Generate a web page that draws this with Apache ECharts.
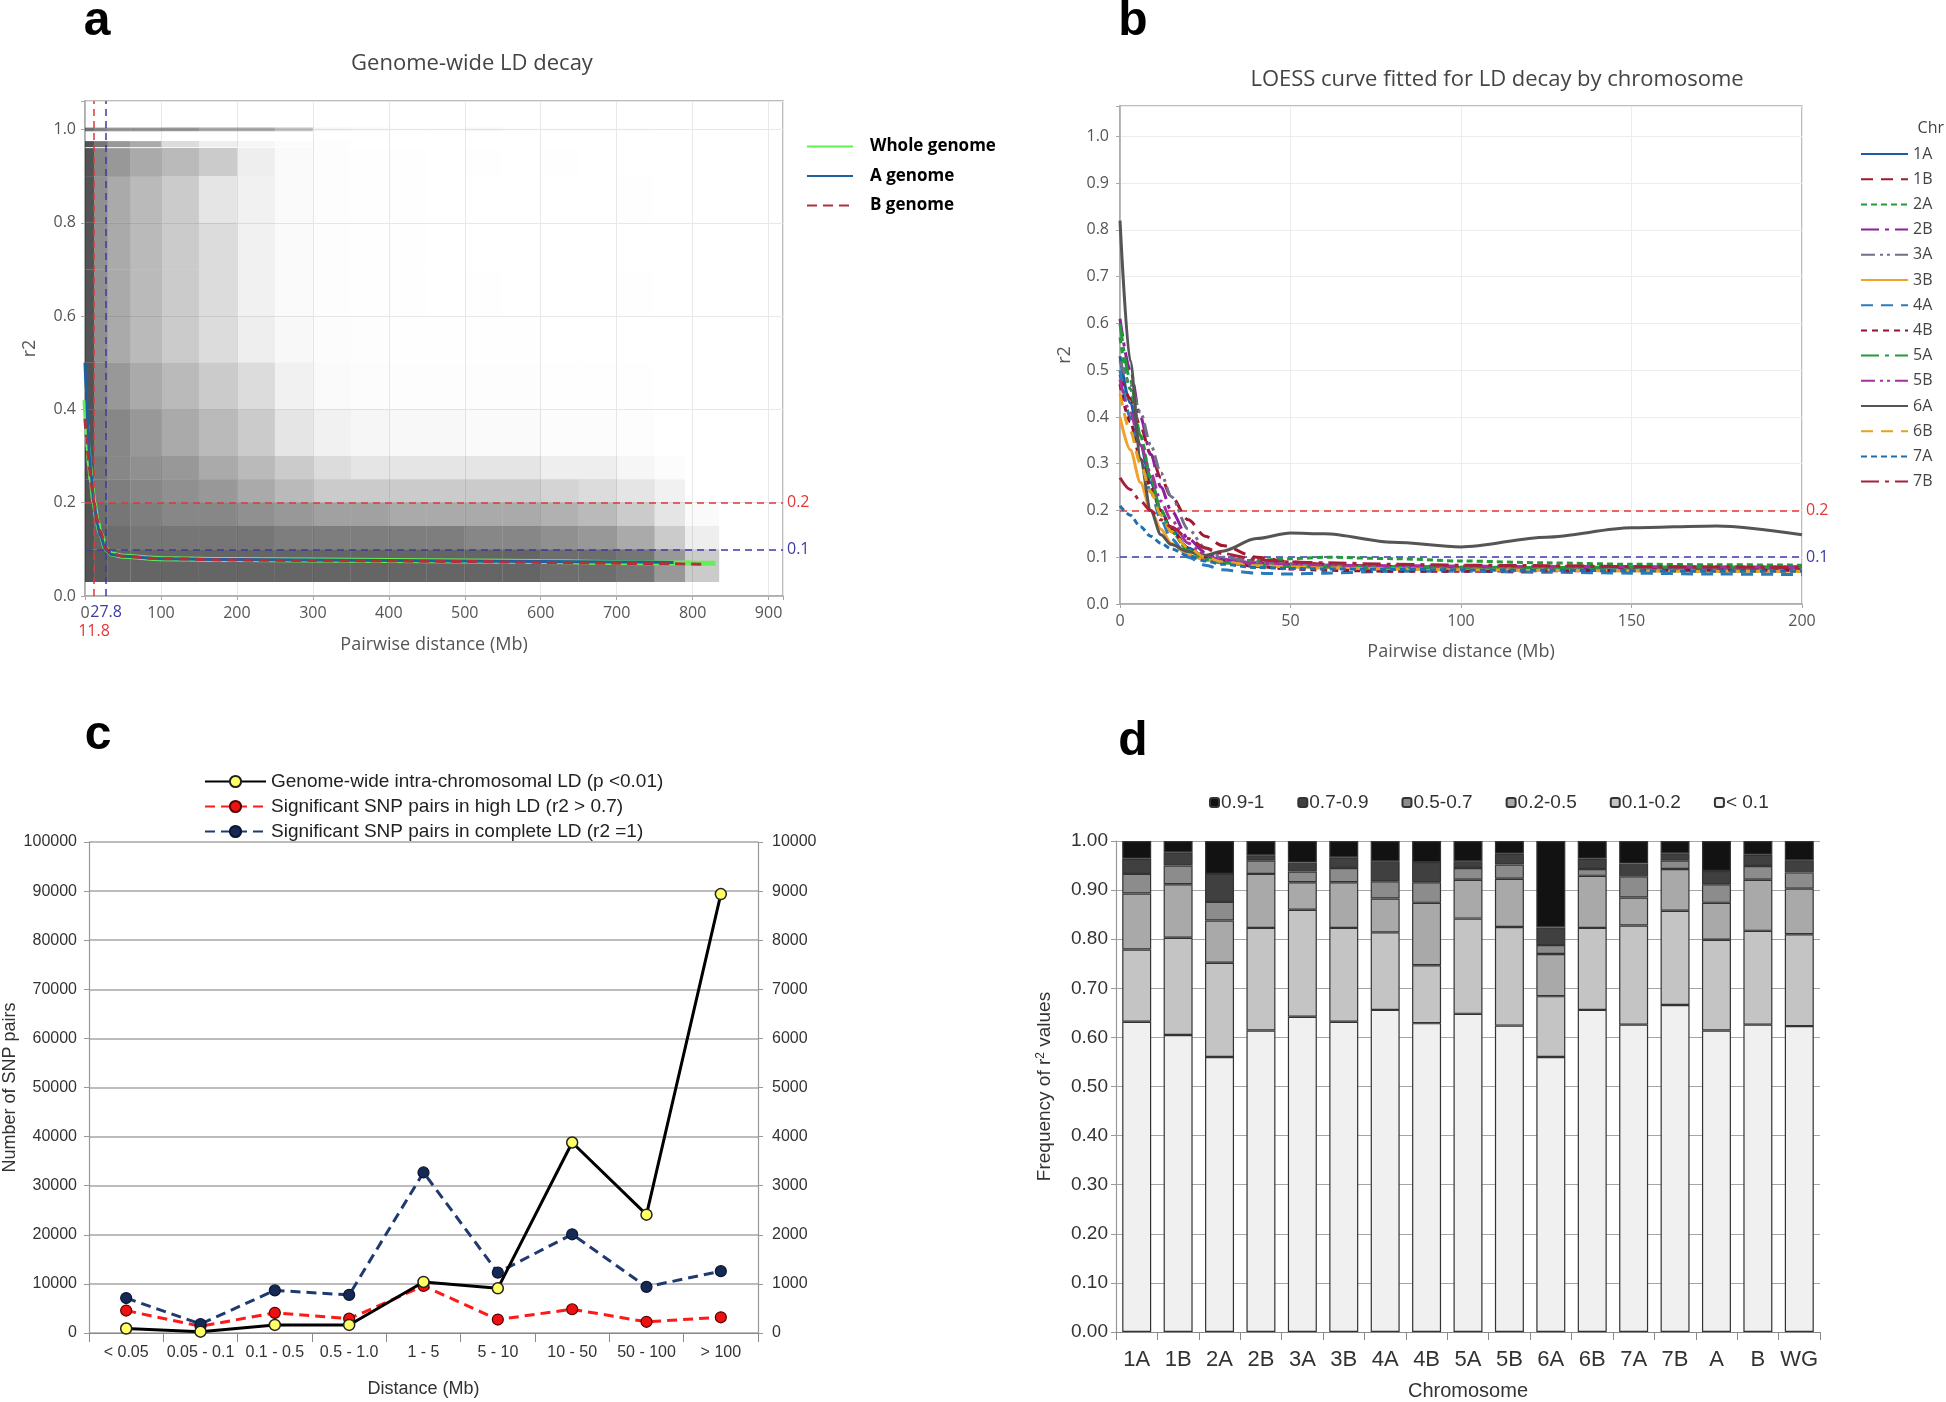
<!DOCTYPE html>
<html><head><meta charset="utf-8">
<script src="https://cdn.jsdelivr.net/npm/echarts@6/dist/echarts.min.js"></script>
<style>html,body{margin:0;padding:0;background:#fff;} #c{width:1946px;height:1402px;}</style>
</head><body><div id="c"></div>
<script>
// ---------------- Panel a: genome-wide LD decay ----------------
// density of SNP-pair points, read off the scatter cloud (0 = empty, 10 = saturated)
const aXEdges = [0, 12, 30, 60, 100, 150, 200, 250, 300, 350, 400, 450, 500, 550, 600, 650, 700, 750, 790, 835];
const aRowBands = [[0.03,0.1],[0.1,0.15],[0.15,0.2],[0.2,0.25],[0.25,0.3],[0.3,0.4],[0.4,0.5],[0.5,0.6],[0.6,0.7],[0.7,0.8],[0.8,0.9],[0.9,0.96],[0.962,0.975],[0.996,1.004]];
const aDensity = [
  [10, 9.5, 9, 9, 9, 9, 9, 9, 9, 9, 9, 9, 9, 9, 8.5, 8.5, 8, 6, 3],
  [10, 9, 8.5, 8, 8, 8, 8, 7.5, 7.5, 7.5, 7.5, 7.5, 7, 7, 6.5, 6, 5, 3, 1],
  [10, 8.5, 8, 7.5, 7, 7, 6.5, 6, 5.5, 5.5, 5, 5, 5, 5, 4.5, 4, 3, 1.5, 0.3],
  [10, 8, 7.5, 7, 6.5, 6, 5, 4, 3, 3, 3, 3, 3, 3, 2.5, 2, 1.5, 0.8, 0],
  [10, 8, 7, 6.5, 6, 5, 4, 3, 2, 1.5, 1.5, 1.5, 1.5, 1.5, 1, 1, 0.5, 0.2, 0],
  [10, 7.5, 7, 6, 5, 4, 3, 1.5, 0.8, 0.5, 0.4, 0.4, 0.3, 0.3, 0.2, 0.2, 0.1, 0, 0],
  [10, 7, 6, 5, 4, 3, 2, 0.8, 0.3, 0.2, 0.1, 0.1, 0.1, 0.1, 0.05, 0.05, 0.05, 0, 0],
  [10, 6.5, 5, 4, 3, 2, 1, 0.4, 0.2, 0.1, 0.05, 0.05, 0.05, 0.05, 0, 0, 0, 0, 0],
  [10, 6.5, 5, 4, 3, 2, 0.8, 0.3, 0.1, 0.05, 0.05, 0, 0.05, 0, 0, 0, 0.05, 0, 0],
  [10, 6.5, 5, 4, 3, 2, 0.8, 0.3, 0.1, 0.05, 0.05, 0, 0, 0, 0, 0, 0, 0, 0],
  [10, 6.5, 5, 4, 3, 1.5, 0.8, 0.3, 0.1, 0.05, 0.05, 0, 0, 0, 0, 0, 0.05, 0, 0],
  [10, 7, 6, 5, 4, 3, 1, 0.3, 0.1, 0.05, 0.05, 0, 0.05, 0, 0.05, 0, 0, 0, 0],
  [10, 8, 6, 5, 2, 1, 0.5, 0.2, 0.1, 0, 0, 0, 0, 0, 0, 0, 0, 0, 0],
  [8, 7, 6, 6, 6, 5, 5, 3.5, 0.5, 0.3, 0.2, 0.2, 0.4, 0.2, 0.1, 0.1, 0.1, 0, 0]
];
const aCurveX  = [0, 2, 4, 6, 8, 11.8, 16, 20, 27.8, 35, 50, 100, 200, 300, 400, 500, 600, 700, 775, 815, 830];
const aWhole   = [0.42, 0.37, 0.32, 0.28, 0.25, 0.2, 0.16, 0.135, 0.1, 0.09, 0.085, 0.08, 0.078, 0.077, 0.076, 0.075, 0.074, 0.072, 0.071, 0.07, 0.07];
const aGenomeA = [0.5, 0.43, 0.36, 0.3, 0.26, 0.2, 0.155, 0.13, 0.098, 0.089, 0.085, 0.08, 0.078, 0.077, 0.076, 0.075, 0.074, 0.073, 0.072, null, null];
const aGenomeB = [0.38, 0.34, 0.3, 0.27, 0.24, 0.2, 0.165, 0.14, 0.102, 0.091, 0.085, 0.08, 0.077, 0.076, 0.075, 0.074, 0.072, 0.07, 0.069, 0.068, null];
const aThresholds = [0.2, 0.1];
const aDecayDist = [11.8, 27.8];

// ---------------- Panel b: LOESS by chromosome ----------------
const bX = [0, 3, 6, 9, 12, 15, 20, 25, 30, 40, 50, 60, 80, 100, 125, 150, 175, 200];
const bChr = ['1A','1B','2A','2B','3A','3B','4A','4B','5A','5B','6A','6B','7A','7B'];
const b1A = [0.53, 0.43, 0.34, 0.26, 0.2, 0.16, 0.12, 0.1, 0.092, 0.085, 0.083, 0.082, 0.08, 0.078, 0.077, 0.076, 0.075, 0.075];
const b1B = [0.49, 0.44, 0.38, 0.32, 0.27, 0.23, 0.18, 0.145, 0.125, 0.1, 0.09, 0.085, 0.08, 0.078, 0.076, 0.075, 0.074, 0.072];
const b2A = [0.57, 0.46, 0.36, 0.27, 0.2, 0.155, 0.115, 0.098, 0.092, 0.093, 0.097, 0.1, 0.097, 0.092, 0.088, 0.085, 0.084, 0.083];
const b2B = [0.61, 0.5, 0.4, 0.32, 0.25, 0.2, 0.14, 0.11, 0.095, 0.088, 0.085, 0.083, 0.08, 0.078, 0.077, 0.076, 0.075, 0.075];
const b3A = [0.52, 0.47, 0.41, 0.34, 0.28, 0.23, 0.16, 0.12, 0.1, 0.09, 0.086, 0.083, 0.08, 0.079, 0.078, 0.077, 0.077, 0.076];
const b3B = [0.40, 0.33, 0.26, 0.2, 0.16, 0.13, 0.105, 0.094, 0.088, 0.083, 0.08, 0.078, 0.075, 0.073, 0.072, 0.071, 0.07, 0.07];
const b4A = [0.5, 0.4, 0.31, 0.24, 0.18, 0.14, 0.1, 0.083, 0.073, 0.066, 0.064, 0.066, 0.07, 0.07, 0.068, 0.066, 0.064, 0.063];
const b4B = [0.47, 0.39, 0.31, 0.25, 0.2, 0.16, 0.12, 0.1, 0.09, 0.08, 0.075, 0.072, 0.07, 0.07, 0.071, 0.072, 0.072, 0.072];
const b5A = [0.6, 0.48, 0.36, 0.27, 0.2, 0.155, 0.115, 0.095, 0.088, 0.083, 0.08, 0.079, 0.078, 0.078, 0.078, 0.079, 0.079, 0.08];
const b5B = [0.48, 0.41, 0.34, 0.28, 0.22, 0.18, 0.13, 0.105, 0.093, 0.087, 0.085, 0.083, 0.082, 0.081, 0.08, 0.08, 0.079, 0.079];
const b6A = [0.82, 0.52, 0.31, 0.2, 0.148, 0.127, 0.112, 0.104, 0.113, 0.14, 0.152, 0.15, 0.132, 0.122, 0.143, 0.163, 0.167, 0.148];
const b6B = [0.45, 0.37, 0.3, 0.24, 0.19, 0.155, 0.12, 0.1, 0.09, 0.082, 0.079, 0.077, 0.075, 0.073, 0.072, 0.071, 0.07, 0.07];
const b7A = [0.21, 0.19, 0.165, 0.145, 0.13, 0.118, 0.103, 0.092, 0.085, 0.078, 0.076, 0.075, 0.074, 0.073, 0.072, 0.071, 0.07, 0.07];
const b7B = [0.27, 0.245, 0.22, 0.2, 0.18, 0.165, 0.14, 0.12, 0.108, 0.095, 0.09, 0.088, 0.085, 0.083, 0.082, 0.08, 0.079, 0.078];
const bValues = [b1A, b1B, b2A, b2B, b3A, b3B, b4A, b4B, b5A, b5B, b6A, b6B, b7A, b7B];

// ---------------- Panel c: SNP pairs by distance ----------------
const cCats = ['< 0.05', '0.05 - 0.1', '0.1 - 0.5', '0.5 - 1.0', '1 - 5', '5 - 10', '10 - 50', '50 - 100', '> 100'];
const cGenomeWide = [910, 270, 1640, 1640, 10400, 9100, 38800, 24100, 89400];
const cHighLD = [457, 137, 411, 292, 959, 274, 484, 228, 320];
const cCompleteLD = [712, 183, 868, 776, 3270, 1230, 2010, 940, 1260];

// ---------------- Panel d: r2 class frequencies ----------------
const dCats = ['1A','1B','2A','2B','3A','3B','4A','4B','5A','5B','6A','6B','7A','7B','A','B','WG'];
const dLt01  = [0.632,0.605,0.560,0.614,0.642,0.632,0.656,0.629,0.648,0.624,0.560,0.656,0.626,0.666,0.614,0.626,0.623];
const d01_02 = [0.147,0.198,0.192,0.209,0.218,0.191,0.158,0.118,0.194,0.201,0.124,0.167,0.202,0.192,0.185,0.191,0.187];
const d02_05 = [0.114,0.109,0.086,0.110,0.056,0.093,0.069,0.127,0.079,0.098,0.086,0.106,0.057,0.085,0.075,0.104,0.093];
const d05_07 = [0.040,0.038,0.038,0.027,0.022,0.029,0.035,0.042,0.024,0.029,0.018,0.014,0.043,0.017,0.038,0.028,0.033];
const d07_09 = [0.031,0.027,0.057,0.011,0.018,0.022,0.041,0.041,0.014,0.022,0.036,0.021,0.026,0.015,0.027,0.023,0.025];
const d09_1  = [0.036,0.023,0.067,0.029,0.044,0.033,0.041,0.043,0.041,0.026,0.176,0.036,0.046,0.025,0.061,0.028,0.039];
const dClassNames = ['< 0.1', '0.1-0.2', '0.2-0.5', '0.5-0.7', '0.7-0.9', '0.9-1'];
const dClassValues = [dLt01, d01_02, d02_05, d05_07, d07_09, d09_1];

// ---------------- styles ----------------
const FONT_AB = "'Open Sans', 'DejaVu Sans', sans-serif";
const FONT_R = "'Liberation Sans', Arial, sans-serif";
const RED = '#e53535', BLUE = '#3b3ba5';
const bStyles = {
  '1A': {c:'#1f5aa6', t:'solid'}, '1B': {c:'#a3182b', t:[12,8]}, '2A': {c:'#22993a', t:[6,4]},
  '2B': {c:'#8e1e9e', t:[18,6,4,6]}, '3A': {c:'#707088', t:[14,5,3,4,3,5]}, '3B': {c:'#f2a12a', t:'solid'},
  '4A': {c:'#2b7bbb', t:[12,8]}, '4B': {c:'#96122e', t:[6,5]}, '5A': {c:'#22993a', t:[18,6,4,6]},
  '5B': {c:'#a4319f', t:[14,5,3,4,3,5]}, '6A': {c:'#555555', t:'solid'}, '6B': {c:'#e5a11f', t:[12,8]},
  '7A': {c:'#1f6fae', t:[6,4]}, '7B': {c:'#a8203a', t:[18,6,4,6]}
};
const dColors = ['#f0f0f0', '#c4c4c4', '#a9a9a9', '#8c8c8c', '#404040', '#121212'];

// ---------------- build data ----------------
const densityData = [];
aRowBands.forEach((band, r) => {
  aDensity[r].forEach((d, c) => {
    if (d > 0) densityData.push([aXEdges[c], aXEdges[c + 1], band[0], band[1], d]);
  });
});
const pairs = (xs, ys) => xs.map((x, i) => [x, ys[i]]).filter(p => p[1] != null);

const chart = echarts.init(document.getElementById('c'), null, {renderer: 'canvas'});

const abAxisLabel = {fontSize: 16, color: '#555', fontFamily: FONT_AB};
const abLine = {lineStyle: {color: '#a8a8a8', width: 1.5}};

const series = [];
series.push({
  type: 'custom', name: 'pairs', xAxisIndex: 0, yAxisIndex: 0, silent: true, z: 1,
  encode: {x: [0, 1], y: [2, 3]},
  data: densityData,
  renderItem: (params, api) => {
    const p0 = api.coord([api.value(0), api.value(3)]);
    const p1 = api.coord([api.value(1), api.value(2)]);
    const a = Math.min(1, api.value(4) / 10) * 0.78;
    return {type: 'rect', shape: {x: p0[0], y: p0[1], width: p1[0] - p0[0], height: p1[1] - p0[1]},
      style: {fill: 'rgba(35,35,35,' + a + ')'}};
  }
});
series.push({
  type: 'line', name: 'Whole genome', xAxisIndex: 0, yAxisIndex: 0, z: 3, symbol: 'none',
  smooth: 0.3, smoothMonotone: 'x', data: pairs(aCurveX, aWhole),
  lineStyle: {color: '#66ee55', width: 5}, itemStyle: {color: '#66ee55'},
  markLine: {
    silent: true, symbol: ['none', 'none'], z: 5,
    data: [
      {yAxis: aThresholds[0], lineStyle: {color: RED, type: [7, 5], width: 1.5},
        label: {position: 'end', formatter: '0.2', color: RED, fontSize: 16, fontFamily: FONT_AB, distance: 4}},
      {yAxis: aThresholds[1], lineStyle: {color: BLUE, type: [7, 5], width: 1.5},
        label: {position: 'end', formatter: '0.1', color: BLUE, fontSize: 16, fontFamily: FONT_AB, distance: 4}},
      {xAxis: aDecayDist[0], lineStyle: {color: RED, type: [7, 5], width: 1.5},
        label: {position: 'start', formatter: '11.8', color: RED, fontSize: 16, fontFamily: FONT_AB, distance: 27}},
      {xAxis: aDecayDist[1], lineStyle: {color: BLUE, type: [7, 5], width: 1.5},
        label: {position: 'start', formatter: '27.8', color: BLUE, fontSize: 16, fontFamily: FONT_AB, distance: 8}}
    ]
  }
});
series.push({
  type: 'line', name: 'A genome', xAxisIndex: 0, yAxisIndex: 0, z: 4, symbol: 'none',
  smooth: 0.3, smoothMonotone: 'x', data: pairs(aCurveX, aGenomeA),
  lineStyle: {color: '#1f5f9f', width: 3}, itemStyle: {color: '#1f5f9f'}
});
series.push({
  type: 'line', name: 'B genome', xAxisIndex: 0, yAxisIndex: 0, z: 4, symbol: 'none',
  smooth: 0.3, smoothMonotone: 'x', data: pairs(aCurveX, aGenomeB),
  lineStyle: {color: '#b03040', width: 3, type: [10, 6]}, itemStyle: {color: '#b03040'}
});

bChr.forEach((ch, i) => {
  const st = bStyles[ch];
  const s = {
    type: 'line', name: ch, xAxisIndex: 1, yAxisIndex: 1, symbol: 'none', z: 3,
    smooth: 0.3, smoothMonotone: 'x', data: pairs(bX, bValues[i]),
    lineStyle: {color: st.c, width: 3, type: st.t}, itemStyle: {color: st.c}
  };
  if (i === 0) {
    s.markLine = {
      silent: true, symbol: ['none', 'none'], z: 2,
      data: [
        {yAxis: 0.2, lineStyle: {color: RED, type: [7, 5], width: 1.5},
          label: {position: 'end', formatter: '0.2', color: RED, fontSize: 16, fontFamily: FONT_AB, distance: 4}},
        {yAxis: 0.1, lineStyle: {color: BLUE, type: [7, 5], width: 1.5},
          label: {position: 'end', formatter: '0.1', color: BLUE, fontSize: 16, fontFamily: FONT_AB, distance: 4}}
      ]
    };
  }
  series.push(s);
});

series.push({
  type: 'line', name: 'Genome-wide intra-chromosomal LD (p <0.01)', xAxisIndex: 2, yAxisIndex: 2, z: 5,
  data: cGenomeWide, symbol: 'circle', symbolSize: 11,
  lineStyle: {color: '#000', width: 3}, itemStyle: {color: '#ffff66', borderColor: '#222', borderWidth: 1.5}
});
series.push({
  type: 'line', name: 'Significant SNP pairs in high LD (r2 > 0.7)', xAxisIndex: 2, yAxisIndex: 3, z: 4,
  data: cHighLD, symbol: 'circle', symbolSize: 11,
  lineStyle: {color: '#ff1a1a', width: 3, type: [10, 6]}, itemStyle: {color: '#ee1111', borderColor: '#550000', borderWidth: 1.2}
});
series.push({
  type: 'line', name: 'Significant SNP pairs in complete LD (r2 =1)', xAxisIndex: 2, yAxisIndex: 3, z: 4,
  data: cCompleteLD, symbol: 'circle', symbolSize: 11,
  lineStyle: {color: '#1f3a70', width: 3, type: [10, 6]}, itemStyle: {color: '#142a55', borderColor: '#0a1530', borderWidth: 1.2}
});

dClassNames.forEach((nm, i) => {
  series.push({
    type: 'bar', name: nm, xAxisIndex: 3, yAxisIndex: 4, stack: 'd', barCategoryGap: '30%',
    data: dClassValues[i],
    itemStyle: {color: dColors[i], borderColor: '#333', borderWidth: 1.2}
  });
});

const fmtTenth = v => (Math.abs(v * 10 - Math.round(v * 10)) < 1e-6 ? v.toFixed(1) : '');
const fmtFifth = v => (Math.abs(v * 5 - Math.round(v * 5)) < 1e-6 ? v.toFixed(1) : '');
const fmtPlain = v => String(v);

const option = {
  backgroundColor: '#fff',
  animation: false,
  grid: [
    {left: 85, top: 101, width: 698, height: 495, show: true, borderColor: '#a8a8a8', borderWidth: 1.5},
    {left: 1120, top: 106, width: 682, height: 498, show: true, borderColor: '#a8a8a8', borderWidth: 1.5},
    {left: 88, top: 842, width: 670, height: 491},
    {left: 1116, top: 841, width: 704, height: 494}
  ],
  xAxis: [
    {type: 'value', gridIndex: 0, min: 0, max: 919, interval: 100,
      axisLine: abLine, axisTick: {show: true, length: 4, lineStyle: {color: '#a8a8a8'}},
      axisLabel: Object.assign({margin: 9, formatter: v => (v > 900.5 ? '' : String(v))}, abAxisLabel),
      splitLine: {lineStyle: {color: '#e8e8e8', width: 1}},
      name: 'Pairwise distance (Mb)', nameLocation: 'middle', nameGap: 40,
      nameTextStyle: {fontSize: 18, color: '#555', fontFamily: FONT_AB}},
    {type: 'value', gridIndex: 1, min: 0, max: 200, interval: 50,
      axisLine: abLine, axisTick: {show: true, length: 4, lineStyle: {color: '#a8a8a8'}},
      axisLabel: Object.assign({margin: 9}, abAxisLabel),
      splitLine: {lineStyle: {color: '#ececec', width: 1}},
      name: 'Pairwise distance (Mb)', nameLocation: 'middle', nameGap: 39,
      nameTextStyle: {fontSize: 18, color: '#555', fontFamily: FONT_AB}},
    {type: 'category', gridIndex: 2, data: cCats, boundaryGap: true,
      axisLine: {lineStyle: {color: '#888', width: 1.2}},
      axisTick: {show: true, length: 9, interval: 0, lineStyle: {color: '#888'}},
      axisLabel: {interval: 0, fontSize: 16, color: '#333', fontFamily: FONT_R, margin: 12},
      name: 'Distance (Mb)', nameLocation: 'middle', nameGap: 47,
      nameTextStyle: {fontSize: 18, color: '#333', fontFamily: FONT_R}},
    {type: 'category', gridIndex: 3, data: dCats, boundaryGap: true,
      axisLine: {lineStyle: {color: '#888', width: 1.2}},
      axisTick: {show: true, length: 8, interval: 0, lineStyle: {color: '#888'}},
      axisLabel: {interval: 0, fontSize: 22, color: '#333', fontFamily: FONT_R, margin: 17},
      name: 'Chromosome', nameLocation: 'middle', nameGap: 49,
      nameTextStyle: {fontSize: 20, color: '#333', fontFamily: FONT_R}}
  ],
  yAxis: [
    {type: 'value', gridIndex: 0, min: 0, max: 1.061, interval: 0.2,
      axisLine: abLine, axisTick: {show: true, length: 4, lineStyle: {color: '#a8a8a8'}},
      axisLabel: Object.assign({margin: 9, formatter: fmtFifth}, abAxisLabel),
      splitLine: {lineStyle: {color: '#e8e8e8', width: 1}},
      name: 'r2', nameLocation: 'middle', nameGap: 46,
      nameTextStyle: {fontSize: 18, color: '#555', fontFamily: FONT_AB}},
    {type: 'value', gridIndex: 1, min: 0, max: 1.065, interval: 0.1,
      axisLine: abLine, axisTick: {show: true, length: 4, lineStyle: {color: '#a8a8a8'}},
      axisLabel: Object.assign({margin: 11, formatter: fmtTenth}, abAxisLabel),
      splitLine: {lineStyle: {color: '#ececec', width: 1}},
      name: 'r2', nameLocation: 'middle', nameGap: 46,
      nameTextStyle: {fontSize: 18, color: '#555', fontFamily: FONT_AB}},
    {type: 'value', gridIndex: 2, min: 0, max: 100000, interval: 10000,
      axisLine: {show: true, lineStyle: {color: '#999', width: 1.2}},
      axisTick: {show: true, length: 5, lineStyle: {color: '#999'}},
      axisLabel: {fontSize: 16, color: '#333', fontFamily: FONT_R, margin: 12, formatter: fmtPlain},
      splitLine: {lineStyle: {color: '#a6a6a6', width: 1.5}},
      name: 'Number of SNP pairs', nameLocation: 'middle', nameGap: 70,
      nameTextStyle: {fontSize: 18, color: '#333', fontFamily: FONT_R}},
    {type: 'value', gridIndex: 2, position: 'right', min: 0, max: 10000, interval: 1000,
      axisLine: {show: true, lineStyle: {color: '#999', width: 1.2}},
      axisTick: {show: true, length: 5, lineStyle: {color: '#999'}},
      axisLabel: {fontSize: 16, color: '#333', fontFamily: FONT_R, margin: 14, formatter: fmtPlain},
      splitLine: {show: false}},
    {type: 'value', gridIndex: 3, min: 0, max: 1, interval: 0.1,
      axisLine: {show: true, lineStyle: {color: '#999', width: 1.2}},
      axisTick: {show: true, length: 5, lineStyle: {color: '#999'}},
      axisLabel: {fontSize: 19, color: '#333', fontFamily: FONT_R, margin: 8, formatter: v => v.toFixed(2)},
      splitLine: {lineStyle: {color: '#a6a6a6', width: 1.2}},
      name: '{a|Frequency of r}{s|2}{a| values}', nameLocation: 'middle', nameGap: 62,
      nameTextStyle: {fontSize: 19, color: '#333', fontFamily: FONT_R,
        rich: {a: {fontSize: 19, color: '#333', fontFamily: FONT_R},
               s: {fontSize: 12, color: '#333', fontFamily: FONT_R, verticalAlign: 'top', lineHeight: 12, padding: [0, 0, 8, 0]}}}}
  ],
  legend: [
    {data: ['Whole genome', 'A genome', 'B genome'], orient: 'vertical', left: 801, top: 133,
      itemWidth: 46, itemHeight: 12, itemGap: 12.5, selectedMode: false,
      itemStyle: {opacity: 0},
      textStyle: {fontSize: 17, fontWeight: 'bold', color: '#000', fontFamily: FONT_AB, padding: [0, 0, 0, 12]}},
    {data: bChr, orient: 'vertical', left: 1855, top: 141, itemWidth: 47, itemHeight: 14, itemGap: 9.2,
      selectedMode: false, itemStyle: {opacity: 0},
      textStyle: {fontSize: 16, color: '#444', fontFamily: FONT_AB, width: 37, align: 'right'}},
    {data: ['Genome-wide intra-chromosomal LD (p <0.01)', 'Significant SNP pairs in high LD (r2 > 0.7)', 'Significant SNP pairs in complete LD (r2 =1)'],
      orient: 'vertical', left: 199, top: 767, itemWidth: 61, itemHeight: 14, itemGap: 6, selectedMode: false,
      textStyle: {fontSize: 19, color: '#222', fontFamily: FONT_R}},
    {data: ['0.9-1', '0.7-0.9', '0.5-0.7', '0.2-0.5', '0.1-0.2', '< 0.1'], orient: 'horizontal',
      left: 1204, top: 788, itemWidth: 9, itemHeight: 9, itemGap: 33, selectedMode: false,
      textStyle: {fontSize: 19, color: '#333', fontFamily: FONT_R, padding: [0, 0, 0, -3]}}
  ],
  graphic: [
    {type: 'text', x: 97, y: 22, style: {text: 'a', font: "bold 48px 'Liberation Sans', sans-serif", fill: '#000', textAlign: 'center', textVerticalAlign: 'middle'}},
    {type: 'text', x: 1133, y: 22, style: {text: 'b', font: "bold 48px 'Liberation Sans', sans-serif", fill: '#000', textAlign: 'center', textVerticalAlign: 'middle'}},
    {type: 'text', x: 98, y: 736, style: {text: 'c', font: "bold 48px 'Liberation Sans', sans-serif", fill: '#000', textAlign: 'center', textVerticalAlign: 'middle'}},
    {type: 'text', x: 1133, y: 742, style: {text: 'd', font: "bold 48px 'Liberation Sans', sans-serif", fill: '#000', textAlign: 'center', textVerticalAlign: 'middle'}},
    {type: 'text', x: 472, y: 64, style: {text: 'Genome-wide LD decay', font: "22px 'Open Sans', sans-serif", fill: '#444', textAlign: 'center', textVerticalAlign: 'middle'}},
    {type: 'text', x: 1497, y: 80, style: {text: 'LOESS curve fitted for LD decay by chromosome', font: "22px 'Open Sans', sans-serif", fill: '#444', textAlign: 'center', textVerticalAlign: 'middle'}},
    {type: 'text', x: 1944, y: 128, style: {text: 'Chr', font: "16px 'Open Sans', sans-serif", fill: '#444', textAlign: 'right', textVerticalAlign: 'middle'}}
  ],
  series: series
};
chart.setOption(option);
</script></body></html>
